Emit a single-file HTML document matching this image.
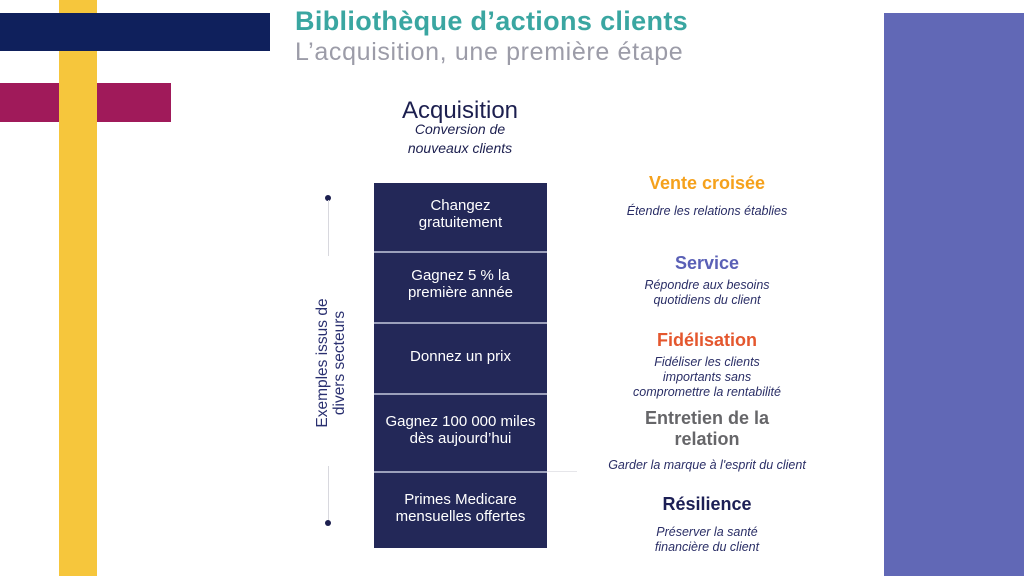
<!DOCTYPE html>
<html><head><meta charset="utf-8"><style>
*{margin:0;padding:0;box-sizing:border-box}
body{width:1024px;height:576px;background:#fff;position:relative;overflow:hidden;font-family:"Liberation Sans",Arial,sans-serif}
.a{position:absolute}
.c{position:absolute;text-align:center;white-space:nowrap}
.bx{color:#fff;font-size:15px;line-height:17px;left:374px;width:173px}
.h{font-weight:bold;font-size:18px;line-height:21px;left:587px;width:240px}
.s{font-style:italic;font-size:12.5px;line-height:15px;color:#2a2e66;left:587px;width:240px}
</style></head><body>
<div class="a" style="left:884px;top:13px;width:140px;height:563px;background:#6168b6"></div>
<div class="a" style="left:0;top:83px;width:171px;height:39px;background:#a01a5a"></div>
<div class="a" style="left:59px;top:0;width:38px;height:576px;background:#f6c63c"></div>
<div class="a" style="left:0;top:13px;width:270px;height:38px;background:#0f205c"></div>

<div class="a" style="left:295px;top:6px;font-size:27px;font-weight:bold;color:#3aa6a1;white-space:nowrap;letter-spacing:0.35px">Bibliothèque d’actions clients</div>
<div class="a" style="left:295px;top:38px;font-size:25px;color:#9c9ca8;white-space:nowrap;letter-spacing:0.65px">L’acquisition, une première étape</div>

<div class="c" style="left:360px;width:200px;top:97px;font-size:24px;line-height:28px;color:#1c1f4f">Acquisition</div>
<div class="c" style="left:360px;width:200px;top:120px;font-size:14px;line-height:19px;font-style:italic;color:#1c1f4f">Conversion de<br>nouveaux clients</div>

<div class="a" style="left:374px;top:183px;width:173px;height:365px;background:#232858"></div>
<div class="a" style="left:374px;top:251px;width:173px;height:2px;background:#9ba0bb"></div>
<div class="a" style="left:374px;top:322px;width:173px;height:2px;background:#9ba0bb"></div>
<div class="a" style="left:374px;top:393px;width:173px;height:2px;background:#9ba0bb"></div>
<div class="a" style="left:374px;top:471px;width:173px;height:2px;background:#9ba0bb"></div>
<div class="a" style="left:547px;top:471px;width:30px;height:1px;background:#e6e6ea"></div>

<div class="c bx" style="top:197px">Changez<br>gratuitement</div>
<div class="c bx" style="top:267px">Gagnez 5 % la<br>première année</div>
<div class="c bx" style="top:348px">Donnez un prix</div>
<div class="c bx" style="top:413px">Gagnez 100 000 miles<br>dès aujourd’hui</div>
<div class="c bx" style="top:491px">Primes Medicare<br>mensuelles offertes</div>

<div class="a" style="left:325px;top:195px;width:6px;height:6px;border-radius:50%;background:#1c1f4f"></div>
<div class="a" style="left:327.5px;top:200px;width:1px;height:56px;background:#d8d8de"></div>
<div class="a" style="left:327.5px;top:466px;width:1px;height:55px;background:#d8d8de"></div>
<div class="a" style="left:325px;top:520px;width:6px;height:6px;border-radius:50%;background:#1c1f4f"></div>
<div class="c" style="left:232px;top:345px;width:200px;font-size:15.5px;line-height:17px;color:#2a3070;transform:rotate(-90deg);transform-origin:100px 18px">Exemples issus de<br>divers secteurs</div>

<div class="c h" style="top:173px;color:#f5a11c">Vente croisée</div>
<div class="c s" style="top:204px">Étendre les relations établies</div>
<div class="c h" style="top:253px;color:#5a60b6">Service</div>
<div class="c s" style="top:278px">Répondre aux besoins<br>quotidiens du client</div>
<div class="c h" style="top:330px;color:#e4572e">Fidélisation</div>
<div class="c s" style="top:355px">Fidéliser les clients<br>importants sans<br>compromettre la rentabilité</div>
<div class="c h" style="top:408px;color:#666669">Entretien de la<br>relation</div>
<div class="c s" style="top:458px">Garder la marque à l'esprit du client</div>
<div class="c h" style="top:494px;color:#1c1f55">Résilience</div>
<div class="c s" style="top:525px">Préserver la santé<br>financière du client</div>
</body></html>
